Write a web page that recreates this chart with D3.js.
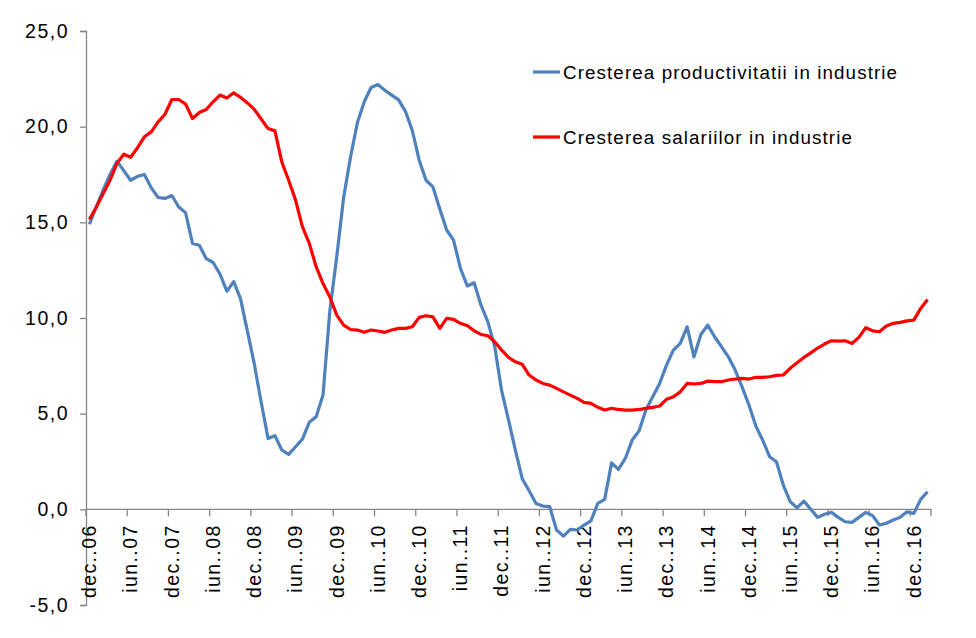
<!DOCTYPE html>
<html>
<head>
<meta charset="utf-8">
<script src="https://cdn.jsdelivr.net/npm/d3@7"></script>
<style>
  body { margin: 0; background: #fff; }
  svg { display: block; font-family: "Liberation Sans", Arial, sans-serif; }
</style>
</head>
<body>
<svg id="chart" width="976" height="638"></svg>
<script>
// Monthly data, dec.06 .. feb.17 (123 months)
const monthNames = ["ian","feb","mar","apr","mai","iun","iul","aug","sep","oct","nov","dec"];
const startYear = 2006, startMonth = 11; // dec 2006

const productivitate = [
  14.9, 15.8, 16.7, 17.5, 18.2, 17.7, 17.2, 17.4, 17.5, 16.8,
  16.3, 16.25, 16.4, 15.8, 15.5, 13.9, 13.8, 13.1, 12.9, 12.3,
  11.4, 11.9, 11.0, 9.3, 7.6, 5.6, 3.7, 3.85, 3.1, 2.87,
  3.27, 3.67, 4.55, 4.84, 5.97, 10.4, 13.2, 16.3, 18.4, 20.2,
  21.3, 22.05, 22.2, 21.9, 21.65, 21.4, 20.8, 19.8, 18.25, 17.2,
  16.85, 15.7, 14.6, 14.07, 12.6, 11.67, 11.84, 10.67, 9.8, 8.5,
  6.2, 4.67, 3.1, 1.6, 0.97, 0.31, 0.17, 0.14, -1.08, -1.4,
  -1.05, -1.08, -0.82, -0.6, 0.31, 0.52, 2.43, 2.09, 2.66, 3.62,
  4.1, 5.19, 5.88, 6.58, 7.54, 8.32, 8.67, 9.54, 7.97, 9.14,
  9.63, 9.02, 8.5, 7.97, 7.28, 6.4, 5.45, 4.35, 3.62, 2.75,
  2.49, 1.27, 0.4, 0.08, 0.43, 0.0, -0.42, -0.26, -0.16, -0.42,
  -0.65, -0.68, -0.42, -0.16, -0.33, -0.82, -0.73, -0.56, -0.42, -0.13,
  -0.21, 0.52, 0.92
];

const salarii = [
  15.15, 15.8, 16.5, 17.2, 18.08, 18.56, 18.4, 18.9, 19.47, 19.73,
  20.25, 20.65, 21.42, 21.42, 21.18, 20.43, 20.74, 20.9, 21.3, 21.65,
  21.5, 21.77, 21.53, 21.24, 20.9, 20.4, 19.9, 19.78, 18.16, 17.2,
  16.16, 14.77, 13.9, 12.68, 11.8, 11.1, 10.15, 9.63, 9.4, 9.37,
  9.25, 9.37, 9.32, 9.25, 9.37, 9.46, 9.46, 9.54, 10.03, 10.12,
  10.06, 9.46, 9.98, 9.93, 9.72, 9.6, 9.33, 9.14, 9.07, 8.76,
  8.32, 7.94, 7.71, 7.58, 7.02, 6.76, 6.58, 6.49, 6.32, 6.14,
  5.97, 5.8, 5.59, 5.54, 5.33, 5.19, 5.28, 5.22, 5.19, 5.19,
  5.22, 5.28, 5.33, 5.4, 5.75, 5.88, 6.14, 6.58, 6.55, 6.58,
  6.7, 6.67, 6.67, 6.76, 6.81, 6.84, 6.81, 6.9, 6.9, 6.93,
  7.0, 7.02, 7.37, 7.66, 7.94, 8.18, 8.43, 8.64, 8.81, 8.79,
  8.81, 8.67, 8.99, 9.49, 9.33, 9.28, 9.58, 9.72, 9.77, 9.85,
  9.89, 10.5, 10.97
];

const seriesNames = ["Cresterea productivitatii in industrie", "Cresterea salariilor in industrie"];
const seriesColors = ["#4F81BD", "#FF0000"];
const yTicks = [-5, 0, 5, 10, 15, 20, 25];

// categories
const categories = productivitate.map((_, i) => {
  const m = (startMonth + i) % 12;
  const yr = startYear + Math.floor((startMonth + i) / 12);
  return monthNames[m] + ".." + String(yr % 100).padStart(2, "0");
});

const svg = d3.select("#chart");
const plotLeft = 86, plotRight = 931, plotTop = 31, plotBottom = 605;

const x = d3.scaleBand().domain(d3.range(categories.length)).range([plotLeft, plotRight]).padding(0);
const y = d3.scaleLinear().domain([-5, 25]).range([plotBottom, plotTop]);

const axisColor = "#868686";

// Y axis
const yAxis = d3.axisLeft(y).tickValues(yTicks).tickSize(6)
  .tickFormat(d => d.toFixed(1).replace(".", ","));
const gy = svg.append("g").attr("transform", `translate(${plotLeft},0)`).call(yAxis);
gy.select(".domain").attr("stroke", axisColor).attr("stroke-width", 1.3);
gy.selectAll(".tick line").attr("stroke", axisColor).attr("stroke-width", 1.3);
gy.selectAll(".tick text").attr("font-size", 19.5).attr("fill", "#000")
  .attr("letter-spacing", "1.5px")
  .attr("x", -17).attr("font-family", "'Liberation Sans', Arial, sans-serif");

// X axis at y=0: ticks every 6 categories at band boundaries
const tickIdx = d3.range(0, categories.length, 6);
const gx = svg.append("g").attr("transform", `translate(0,${y(0)})`);
gx.append("line").attr("x1", plotLeft).attr("x2", plotRight).attr("y1", 0).attr("y2", 0)
  .attr("stroke", axisColor).attr("stroke-width", 1.3);
gx.selectAll("line.tk").data(tickIdx).join("line").attr("class", "tk")
  .attr("x1", d => x(d)).attr("x2", d => x(d)).attr("y1", 0).attr("y2", 7)
  .attr("stroke", axisColor).attr("stroke-width", 1.3);
gx.append("line").attr("x1", plotRight).attr("x2", plotRight).attr("y1", 0).attr("y2", 7)
  .attr("stroke", axisColor).attr("stroke-width", 1.3);
gx.selectAll("text.lbl").data(tickIdx).join("text").attr("class", "lbl")
  .attr("transform", d => `translate(${x(d) + x.bandwidth() / 2},15) rotate(-90)`)
  .attr("text-anchor", "end").attr("dy", "0.35em")
  .attr("font-size", 19.5).attr("fill", "#000")
  .attr("letter-spacing", "1.4px")
  .text(d => categories[d]);

// Lines
const line = d3.line().x((d, i) => x(i) + x.bandwidth() / 2).y(d => y(d));
[productivitate, salarii].forEach((s, k) => {
  svg.append("path").datum(s).attr("d", line).attr("fill", "none")
    .attr("stroke", seriesColors[k]).attr("stroke-width", 3.2)
    .attr("stroke-linejoin", "round");
});

// Legend
const legendY = [72, 137];
seriesNames.forEach((name, k) => {
  svg.append("line").attr("x1", 533).attr("x2", 560).attr("y1", legendY[k]).attr("y2", legendY[k])
    .attr("stroke", seriesColors[k]).attr("stroke-width", 3.2);
  svg.append("text").attr("x", 563).attr("y", legendY[k]).attr("dy", "0.35em")
    .attr("font-size", 18.8).attr("fill", "#000")
    .attr("letter-spacing", "1.1px").text(name);
});
</script>
</body>
</html>
